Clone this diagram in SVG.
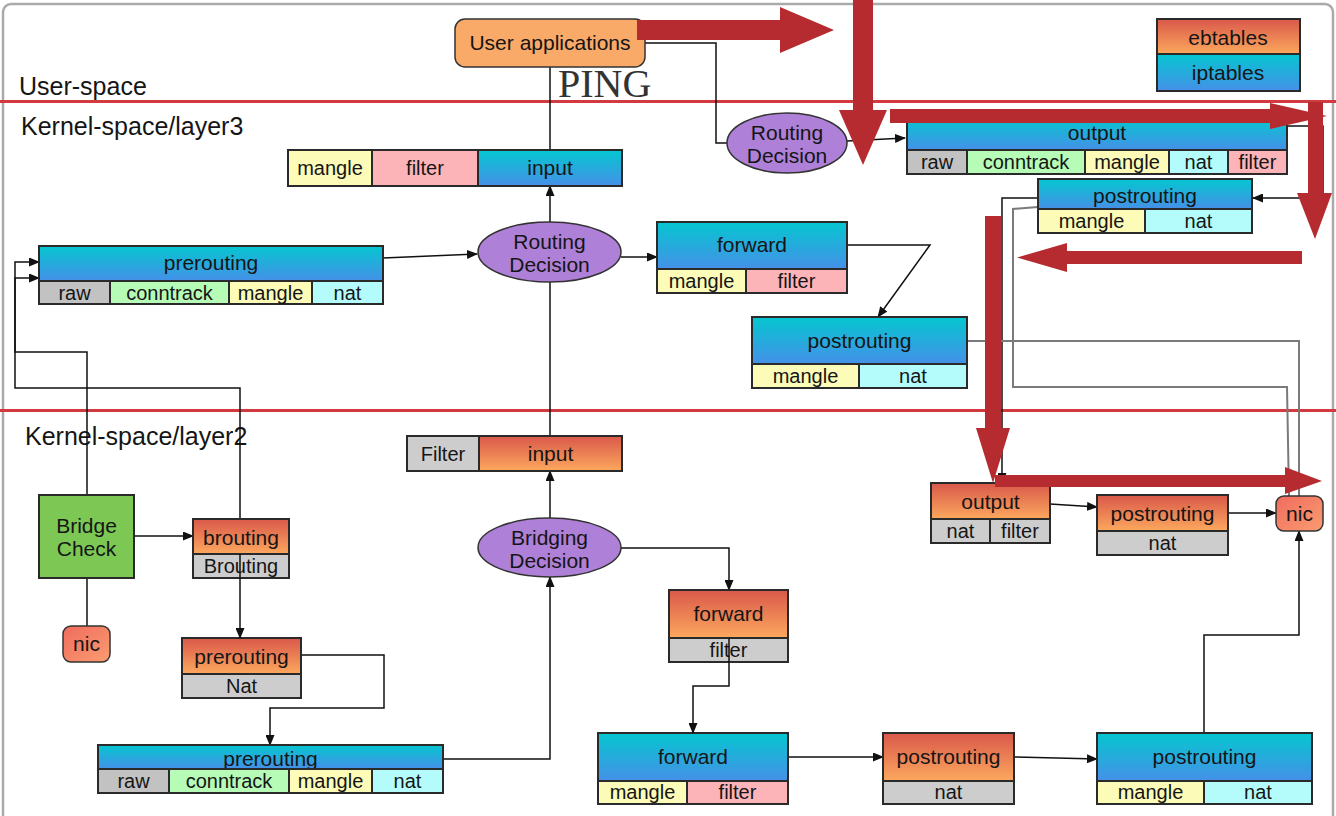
<svg xmlns="http://www.w3.org/2000/svg" width="1336" height="816" viewBox="0 0 1336 816">
<defs>
<linearGradient id="ipt" x1="0" y1="0" x2="0" y2="1"><stop offset="0" stop-color="#05c6d0"/><stop offset="1" stop-color="#4590e8"/></linearGradient>
<linearGradient id="ebt" x1="0" y1="0" x2="0" y2="1"><stop offset="0" stop-color="#d9584a"/><stop offset="1" stop-color="#fca85e"/></linearGradient>
<linearGradient id="nicg" x1="0" y1="0" x2="1" y2="1"><stop offset="0" stop-color="#ef6c5e"/><stop offset="1" stop-color="#fb9c70"/></linearGradient>
<marker id="ah" markerUnits="userSpaceOnUse" markerWidth="11" markerHeight="9" refX="10" refY="4.5" orient="auto"><path d="M0,0 L11,4.5 L0,9 z" fill="#111"/></marker>
<style>
.ln{stroke:#111;stroke-width:1.5;fill:none}
.gl{stroke:#7a7a7a;stroke-width:2;fill:none}
.b{stroke:#2a2a2a;stroke-width:2}
.t{font-family:"Liberation Sans",Arial,sans-serif;font-size:20px;fill:#151515;text-anchor:middle}
.h{font-size:21px}
.lbl{font-family:"Liberation Sans",Arial,sans-serif;font-size:25px;fill:#151515}
.ipt{fill:url(#ipt)}
.ebt{fill:url(#ebt)}
.raw{fill:#c2c2c2}
.ct{fill:#b6fcb6}
.mg{fill:#fcfcb8}
.nat{fill:#b4fcfc}
.flt{fill:#fcb4b8}
.gr{fill:#cdcdcd}
.ell{fill:#ae80d8;stroke:#333;stroke-width:1.5}
.red{fill:#b52b2f}
.sep{stroke:#d23a40;stroke-width:3}
</style>
</defs>
<rect x="0" y="0" width="1336" height="816" fill="#ffffff"/>
<rect x="3" y="4" width="1330" height="820" rx="8" fill="#ffffff" stroke="#aaaaaa" stroke-width="2.5"/>

<g id="separators">
<line class="sep" x1="0" y1="101.5" x2="1336" y2="101.5"/>
<line class="sep" x1="0" y1="410.5" x2="1336" y2="410.5"/>
<text class="lbl" x="19" y="95">User-space</text>
<text class="lbl" x="21" y="135">Kernel-space/layer3</text>
<text class="lbl" x="25" y="445">Kernel-space/layer2</text>
</g>

<g id="connectors">
<polyline class="ln" points="550,67 550,150"/>
<polyline class="ln" points="645,43 716,43 716,143 727,143"/>
<polyline class="ln" points="847,141 905,138" marker-end="url(#ah)"/>
<polyline class="ln" points="1287,126 1323,126 1323,198 1253,198" marker-end="url(#ah)"/>
<polyline class="ln" points="1038,198 1002,198 1002,483" marker-end="url(#ah)"/>
<polyline class="gl" points="1038,207 1013,209 1013,387 1287,387 1289,496"/>
<polyline class="gl" points="967,341 1299,341 1299,496"/>
<polyline class="ln" points="383,258 477,254" marker-end="url(#ah)"/>
<polyline class="ln" points="550,222 550,186" marker-end="url(#ah)"/>
<polyline class="ln" points="621,257 657,257" marker-end="url(#ah)"/>
<polyline class="ln" points="847,245 930,245 878,317" marker-end="url(#ah)"/>
<polyline class="ln" points="550,436 550,282"/>
<polyline class="ln" points="550,518 550,471" marker-end="url(#ah)"/>
<polyline class="ln" points="621,548 729,548 729,590" marker-end="url(#ah)"/>
<polyline class="ln" points="788,757 883,757" marker-end="url(#ah)"/>
<polyline class="ln" points="1014,757 1097,759" marker-end="url(#ah)"/>
<polyline class="ln" points="1204,733 1204,635 1299,635 1299,531" marker-end="url(#ah)"/>
<polyline class="ln" points="1050,504 1097,507" marker-end="url(#ah)"/>
<polyline class="ln" points="1228,513 1276,513" marker-end="url(#ah)"/>
<polyline class="ln" points="134,536 193,536" marker-end="url(#ah)"/>
<polyline class="ln" points="87,578 87,626"/>
<polyline class="ln" points="87,495 87,352 15,352 15,278 39,278" marker-end="url(#ah)"/>
<polyline class="ln" points="240,519 240,388 15,388 15,262 39,262" marker-end="url(#ah)"/>
<polyline class="ln" points="301,655 384,655 384,708 270,708 270,745" marker-end="url(#ah)"/>
<polyline class="ln" points="443,759 550,759 550,577" marker-end="url(#ah)"/>
</g>

<g id="user-apps">
<rect x="455" y="19" width="190" height="48" rx="10" fill="#f9a968" stroke="#333" stroke-width="1.5"/>
<text class="t h" x="550" y="50">User applications</text>
</g>
<g id="ping">
<text x="558" y="97" font-family="'Liberation Serif',serif" font-size="40" fill="#333">PING</text>
</g>

<g id="legend">
<rect class="b ebt" x="1157" y="19" width="143" height="35"/>
<rect class="b ipt" x="1157" y="54" width="143" height="37"/>
<text class="t h" x="1228" y="45">ebtables</text>
<text class="t h" x="1228" y="80">iptables</text>
</g>

<g id="input-l3">
<rect class="b mg" x="288" y="150" width="84" height="36"/>
<rect class="b flt" x="372" y="150" width="106" height="36"/>
<rect class="b ipt" x="478" y="150" width="144" height="36"/>
<text class="t" x="330" y="175">mangle</text>
<text class="t" x="425" y="175">filter</text>
<text class="t h" x="550" y="175">input</text>
</g>

<g id="routing-l3">
<ellipse class="ell" cx="549.5" cy="252" rx="71.5" ry="30"/>
<text class="t h" x="549.5" y="249">Routing</text>
<text class="t h" x="549.5" y="272">Decision</text>
</g>

<g id="prerouting-l3">
<rect class="b ipt" x="39" y="246" width="344" height="35"/>
<rect class="b raw" x="39" y="281" width="71" height="23"/>
<rect class="b ct" x="110" y="281" width="119" height="23"/>
<rect class="b mg" x="229" y="281" width="83" height="23"/>
<rect class="b nat" x="312" y="281" width="71" height="23"/>
<text class="t h" x="211" y="270">prerouting</text>
<text class="t" x="74.5" y="300">raw</text>
<text class="t" x="169.5" y="300">conntrack</text>
<text class="t" x="270.5" y="300">mangle</text>
<text class="t" x="347.5" y="300">nat</text>
</g>

<g id="forward-l3">
<rect class="b ipt" x="657" y="222" width="190" height="47"/>
<rect class="b mg" x="657" y="269" width="89" height="24"/>
<rect class="b flt" x="746" y="269" width="101" height="24"/>
<text class="t h" x="752" y="252">forward</text>
<text class="t" x="701.5" y="288">mangle</text>
<text class="t" x="796.5" y="288">filter</text>
</g>

<g id="postrouting-l3">
<rect class="b ipt" x="752" y="317" width="215" height="47"/>
<rect class="b mg" x="752" y="364" width="107" height="24"/>
<rect class="b nat" x="859" y="364" width="108" height="24"/>
<text class="t h" x="859.5" y="348">postrouting</text>
<text class="t" x="805.5" y="383">mangle</text>
<text class="t" x="913" y="383">nat</text>
</g>

<g id="routing-top">
<ellipse class="ell" cx="787" cy="143" rx="60" ry="30"/>
<text class="t h" x="787" y="140">Routing</text>
<text class="t h" x="787" y="163">Decision</text>
</g>

<g id="output-l3">
<rect class="b ipt" x="907" y="118" width="380" height="32"/>
<rect class="b raw" x="907" y="150" width="60" height="24"/>
<rect class="b ct" x="967" y="150" width="118" height="24"/>
<rect class="b mg" x="1085" y="150" width="84" height="24"/>
<rect class="b nat" x="1169" y="150" width="59" height="24"/>
<rect class="b flt" x="1228" y="150" width="59" height="24"/>
<text class="t h" x="1097" y="140">output</text>
<text class="t" x="937" y="169">raw</text>
<text class="t" x="1026" y="169">conntrack</text>
<text class="t" x="1127" y="169">mangle</text>
<text class="t" x="1198.5" y="169">nat</text>
<text class="t" x="1257.5" y="169">filter</text>
</g>

<g id="postrouting-top">
<rect class="b ipt" x="1038" y="179" width="214" height="30"/>
<rect class="b mg" x="1038" y="209" width="107" height="24"/>
<rect class="b nat" x="1145" y="209" width="107" height="24"/>
<text class="t h" x="1145" y="203">postrouting</text>
<text class="t" x="1091.5" y="228">mangle</text>
<text class="t" x="1198.5" y="228">nat</text>
</g>

<g id="input-l2">
<rect class="b gr" x="407" y="436" width="72" height="35"/>
<rect class="b ebt" x="479" y="436" width="143" height="35"/>
<text class="t" x="443" y="461">Filter</text>
<text class="t h" x="550.5" y="461">input</text>
</g>

<g id="bridging">
<ellipse class="ell" cx="549.5" cy="547.5" rx="71.5" ry="29.5"/>
<text class="t h" x="549.5" y="545">Bridging</text>
<text class="t h" x="549.5" y="568">Decision</text>
</g>

<g id="forward-eb">
<rect class="b ebt" x="669" y="590" width="119" height="48"/>
<rect class="b gr" x="669" y="638" width="119" height="24"/>
<text class="t h" x="728.5" y="621">forward</text>
<text class="t" x="728.5" y="657">filter</text>
</g>

<g id="forward-ipt-l2">
<rect class="b ipt" x="598" y="733" width="190" height="48"/>
<rect class="b mg" x="598" y="781" width="89" height="23"/>
<rect class="b flt" x="687" y="781" width="101" height="23"/>
<text class="t h" x="693" y="764">forward</text>
<text class="t" x="642.5" y="799">mangle</text>
<text class="t" x="737.5" y="799">filter</text>
</g>

<g id="postrouting-eb-bottom">
<rect class="b ebt" x="883" y="733" width="131" height="48"/>
<rect class="b gr" x="883" y="781" width="131" height="23"/>
<text class="t h" x="948.5" y="764">postrouting</text>
<text class="t" x="948.5" y="799">nat</text>
</g>

<g id="postrouting-ipt-bottom">
<rect class="b ipt" x="1097" y="733" width="215" height="48"/>
<rect class="b mg" x="1097" y="781" width="107" height="23"/>
<rect class="b nat" x="1204" y="781" width="108" height="23"/>
<text class="t h" x="1204.5" y="764">postrouting</text>
<text class="t" x="1150.5" y="799">mangle</text>
<text class="t" x="1258" y="799">nat</text>
</g>

<g id="nic-right">
<rect x="1276" y="496" width="47" height="35" rx="8" fill="url(#nicg)" stroke="#333" stroke-width="1.5"/>
<text class="t h" x="1299.5" y="521">nic</text>
</g>

<g id="output-eb">
<rect class="b ebt" x="931" y="483" width="119" height="36"/>
<rect class="b gr" x="931" y="519" width="59" height="24"/>
<rect class="b gr" x="990" y="519" width="60" height="24"/>
<text class="t h" x="990.5" y="509">output</text>
<text class="t" x="960.5" y="538">nat</text>
<text class="t" x="1020" y="538">filter</text>
</g>

<g id="postrouting-eb-mid">
<rect class="b ebt" x="1097" y="495" width="131" height="36"/>
<rect class="b gr" x="1097" y="531" width="131" height="24"/>
<text class="t h" x="1162.5" y="521">postrouting</text>
<text class="t" x="1162.5" y="550">nat</text>
</g>

<g id="bridge-check">
<rect class="b" x="39" y="495" width="95" height="83" fill="#7dc755"/>
<text class="t h" x="86.5" y="533">Bridge</text>
<text class="t h" x="86.5" y="556">Check</text>
</g>

<g id="nic-left">
<rect x="63" y="626" width="47" height="36" rx="8" fill="url(#nicg)" stroke="#333" stroke-width="1.5"/>
<text class="t h" x="86.5" y="651">nic</text>
</g>

<g id="brouting">
<rect class="b ebt" x="193" y="519" width="96" height="35"/>
<rect class="b gr" x="193" y="554" width="96" height="24"/>
<text class="t h" x="241" y="545">brouting</text>
<text class="t" x="241" y="573">Brouting</text>
<line class="ln" x1="240" y1="554" x2="240" y2="578"/>
</g>

<g id="prerouting-eb-l2">
<rect class="b ebt" x="182" y="638" width="119" height="36"/>
<rect class="b gr" x="182" y="674" width="119" height="24"/>
<text class="t h" x="241.5" y="664">prerouting</text>
<text class="t" x="241.5" y="693">Nat</text>
</g>

<g id="prerouting-ipt-l2">
<rect class="b ipt" x="98" y="745" width="345" height="24"/>
<text class="t h" x="270.5" y="766">prerouting</text>
<rect class="b raw" x="98" y="769" width="71" height="24"/>
<rect class="b ct" x="169" y="769" width="120" height="24"/>
<rect class="b mg" x="289" y="769" width="83" height="24"/>
<rect class="b nat" x="372" y="769" width="71" height="24"/>
<text class="t" x="133.5" y="788">raw</text>
<text class="t" x="229" y="788">conntrack</text>
<text class="t" x="330.5" y="788">mangle</text>
<text class="t" x="407.5" y="788">nat</text>
</g>

<g id="forward-eb-through">
<line class="ln" x1="729" y1="638" x2="729" y2="662"/>
<polyline class="ln" points="729,662 729,686 693,686 693,733" marker-end="url(#ah)"/>
<polyline class="ln" points="240,578 240,638" marker-end="url(#ah)"/>
</g>

<g id="red-arrows">
<polygon class="red" points="637,20 780,20 780,7 834,30 780,53 780,40 637,40"/>
<polygon class="red" points="853,0 873,0 873,110 887,110 863,165 839,110 853,110"/>
<polygon class="red" points="890,109 1270,109 1270,103 1327,116 1270,129 1270,123 890,123"/>
<polygon class="red" points="1308,102 1323,102 1323,193 1332,193 1315,239 1297,193 1308,193"/>
<polygon class="red" points="1302,251 1067,251 1067,243 1017,257.5 1067,272 1067,264 1302,264"/>
<polygon class="red" points="985,216 1001,216 1001,428 1010,428 993,483 976,428 985,428"/>
<polygon class="red" points="995,475 1285,475 1285,467 1322,481 1285,494 1285,487 995,487"/>
</g>
</svg>
